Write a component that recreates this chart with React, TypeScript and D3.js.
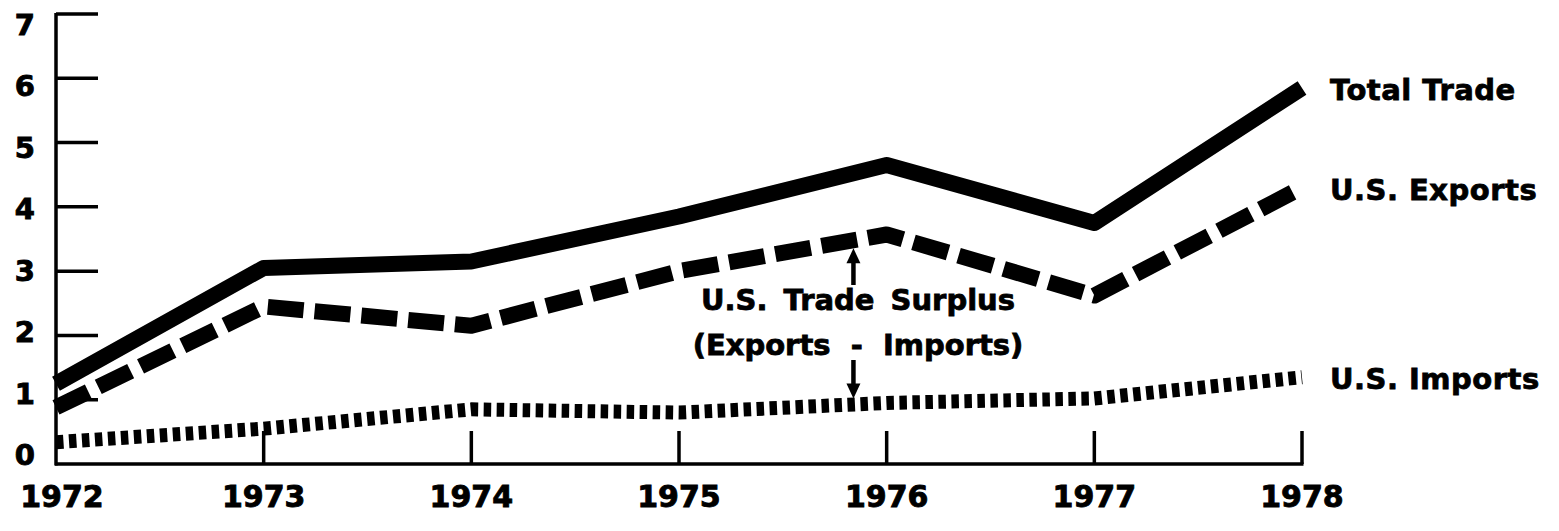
import * as d3 from 'd3'

const years = [1972, 1973, 1974, 1975, 1976, 1977, 1978]
const totalTrade = [1.25, 3.05, 3.15, 3.85, 4.65, 3.75, 5.85]
const usExports = [0.88, 2.45, 2.15, 3.0, 3.57, 2.62, 4.3]
const usImports = [0.34, 0.55, 0.85, 0.8, 0.95, 1.02, 1.35]
const yTicks = [0, 1, 2, 3, 4, 5, 6, 7]
const seriesNames = ['Total Trade', 'U.S. Exports', 'U.S. Imports']
const surplusText = ['U.S. Trade Surplus', '(Exports  -  Imports)']
const surplusYear = 1975.84

const W = 1559
const H = 531
const font = '"DejaVu Sans", "Liberation Sans", Arial, sans-serif'

export default function App() {
  const x = d3.scaleLinear().domain([1972, 1978]).range([56, 1302])
  const y = d3.scaleLinear().domain([0, 7]).range([464, 14])
  // tick numbers sit a little off their ticks in the original
  const yLabel = d3.scaleLinear().domain([0, 7]).range([455, 25])

  const line = d3.line<number>()
    .x((_, i) => x(years[i]))
    .y(d => y(d))

  const series = [
    { name: seriesNames[0], values: totalTrade, dash: undefined, width: 16 },
    { name: seriesNames[1], values: usExports, dash: '36 11', width: 16 },
    { name: seriesNames[2], values: usImports, dash: '7.5 5.5', width: 14 },
  ]

  // where the surplus arrows meet the export / import lines
  const ax = x(surplusYear)
  const expAt = y(d3.scaleLinear().domain(years).range(usExports)(surplusYear))
  const impAt = y(d3.scaleLinear().domain(years).range(usImports)(surplusYear))

  const x0 = x(1972)
  const y0 = y(0)

  return (
    <svg width={W} height={H} style={{ position: 'absolute', left: 0, top: 0, background: '#fff' }}
      fontFamily={font} fontWeight="bold">
      {/* y axis */}
      <line x1={x0} x2={x0} y1={y(7) - 1} y2={y0 + 1.5} stroke="#000" strokeWidth={3.5} />
      {yTicks.filter(t => t > 0).map(t => (
        <line key={t} x1={x0} x2={x0 + 42} y1={y(t)} y2={y(t)} stroke="#000" strokeWidth={3.5} />
      ))}
      <g stroke="#000" strokeWidth={0.9}>
        {yTicks.map(t => (
          <text key={t} x={35} y={yLabel(t)} textAnchor="end" dominantBaseline="central" fontSize={29}>{t}</text>
        ))}
      </g>

      {/* x axis */}
      <line x1={x0 - 1} x2={x(1978) + 1.5} y1={y0} y2={y0} stroke="#000" strokeWidth={3.5} />
      {years.filter(yr => yr > 1972).map(yr => (
        <line key={yr} x1={x(yr)} x2={x(yr)} y1={y0} y2={y0 - 33} stroke="#000" strokeWidth={3.5} />
      ))}
      <g stroke="#000" strokeWidth={0.9}>
        {years.map(yr => (
          <text key={yr} x={x(yr) + (yr === 1972 ? 6 : 0)} y={507} textAnchor="middle" fontSize={30}>{yr}</text>
        ))}
      </g>

      {/* series */}
      {series.map(s => (
        <path key={s.name} d={line(s.values) ?? ''} fill="none" stroke="#000" strokeWidth={s.width}
          strokeDasharray={s.dash} strokeLinejoin="round" strokeLinecap="butt" />
      ))}
      <g stroke="#000" strokeWidth={0.8}>
        {series.map(s => (
          <text key={s.name} x={x(1978) + 28} y={y(s.values[s.values.length - 1]) + 2}
            dominantBaseline="central" fontSize={29} letterSpacing={0.5}>{s.name}</text>
        ))}
      </g>

      {/* surplus annotation */}
      <g stroke="#000" strokeWidth={0.8}>
        <text x={858} y={300} textAnchor="middle" dominantBaseline="central" fontSize={29} wordSpacing={6}>{surplusText[0]}</text>
        <text x={858} y={345} textAnchor="middle" dominantBaseline="central" fontSize={29} style={{ whiteSpace: 'pre' }}>{surplusText[1]}</text>
      </g>
      <line x1={ax} x2={ax} y1={285} y2={expAt + 20} stroke="#000" strokeWidth={4.5} />
      <path d={`M${ax},${expAt + 8} L${ax - 7},${expAt + 23} L${ax + 7},${expAt + 23} Z`} fill="#000" />
      <line x1={ax} x2={ax} y1={360} y2={impAt - 20} stroke="#000" strokeWidth={4.5} />
      <path d={`M${ax},${impAt - 6} L${ax - 7},${impAt - 21} L${ax + 7},${impAt - 21} Z`} fill="#000" />
    </svg>
  )
}
